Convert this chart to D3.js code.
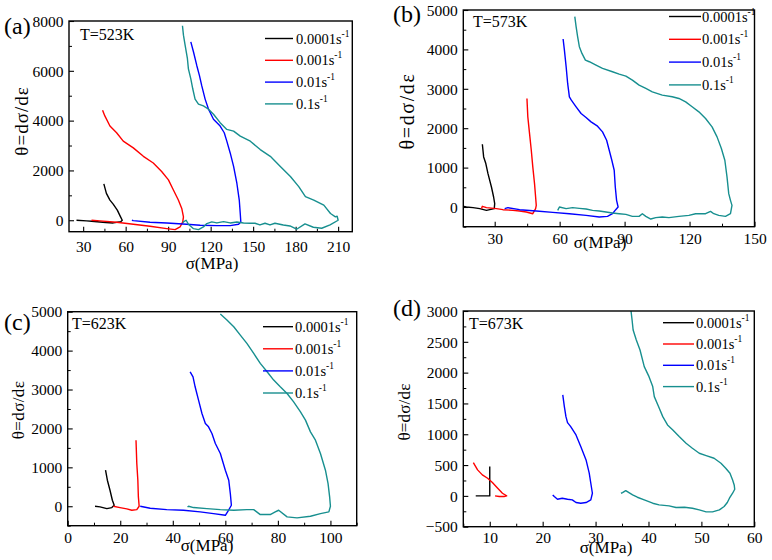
<!DOCTYPE html>
<html><head><meta charset="utf-8">
<script src="https://cdn.jsdelivr.net/npm/d3@7"></script>
<style>
html,body{margin:0;padding:0;background:#fff;}
svg{display:block;}
</style></head>
<body><svg id="c" width="772" height="560"></svg>
<script>
// ---------- data ----------
const rateLabels = ["0.0001s", "0.001s", "0.01s", "0.1s"];
const seriesColors = ["#000000", "#ff0000", "#0000ff", "#178f8f"];
const panelLetters = ["(a)", "(b)", "(c)", "(d)"];
const temps = ["T=523K", "T=573K", "T=623K", "T=673K"];

// panel (a) T=523K
const a_0001 = [[44.6,1459],[46.4,1081],[48.9,810],[51.2,648],[54.1,405],[56.4,135],[57.6,0],[56.5,-60],[51.2,-108],[46,-90],[41.8,-68],[36,-40],[32.4,-27],[25.3,0]];
const a_001 = [[43.7,4418],[45.3,4188],[48.9,3783],[53.6,3513],[58.3,3175],[65.4,2905],[72.5,2567],[79.5,2297],[85.4,1959],[90.2,1621],[93.7,1216],[97.2,811],[99.6,473],[100.8,135],[100.3,-68],[98.4,-270],[94.9,-378],[89,-338],[77.2,-243],[65.4,-162],[53.6,-81],[41.8,-27],[35.9,0]];
const a_01 = [[106,7160],[107.9,6755],[110.2,6215],[112.1,5809],[113.7,5404],[116.1,4864],[118.5,4458],[122,4053],[126.7,3783],[129.6,3513],[131.4,3175],[133.8,2702],[136.2,2162],[138.5,1486],[140.2,811],[140.9,270],[141.3,-68],[139.7,-162],[133.8,-216],[124.4,-216],[112.6,-203],[103.1,-162],[89,-108],[77.2,-81],[65.4,-14],[64.4,0]];
const a_1 = [[100.1,7809],[100.8,7430],[102,7025],[103.6,6485],[104.3,6080],[106,5674],[107.4,5269],[109,4864],[111.4,4661],[114.9,4593],[118.5,4458],[122,4256],[126.7,3918],[131.4,3648],[136.2,3580],[140.9,3378],[148,3175],[155,2837],[162.1,2567],[169.2,2162],[176.3,1756],[182.2,1351],[186.9,946],[192.8,811],[199.9,608],[204.6,270],[208.1,135],[209.3,162],[210,0],[204.3,-189],[198.4,-321],[192.5,-281],[186.6,-149],[180.7,-361],[176,-229],[171.3,-189],[165.4,-120],[161.9,-189],[158.4,-120],[154.8,-189],[151.3,-120],[147.8,-120],[143.2,-108],[138.5,-68],[133.8,-108],[129.1,-54],[124.4,-108],[120.8,-68],[117.3,-135],[114.9,-270],[111.4,-378],[107.9,-338],[104.3,-162],[102.7,0],[100.8,-68],[100.3,-96]];

// panel (b) T=573K
const b_0001 = [[24.3,1593],[24.9,1271],[25.9,1102],[26.9,847],[28.5,508],[29.5,254],[30,85],[29.8,-42],[26.2,-85],[23.1,-42],[20,-17],[16.9,0],[15.7,17]];
const b_001 = [[44.9,2754],[45.3,2288],[46.1,1864],[46.9,1441],[47.6,1017],[48.4,593],[48.9,254],[49.2,42],[48.9,-42],[47.6,-170],[44.6,-127],[41.5,-102],[38.4,-85],[33.8,-68],[30.8,-42],[26.2,-17],[24.3,17],[23.9,-42]];
const b_01 = [[61.6,4263],[62.2,3983],[63,3559],[63.7,3136],[64.5,2797],[65.4,2712],[67.6,2543],[69.9,2373],[72.2,2271],[74.5,2161],[77.5,2051],[79.8,1907],[81.7,1695],[82.9,1441],[84.1,1186],[85.2,932],[85.7,508],[86.3,169],[87,0],[85.9,-68],[84.4,-170],[82.1,-237],[78.3,-254],[72.2,-212],[64.5,-170],[56.8,-136],[49.2,-102],[41.5,-68],[36.1,-17],[34.6,-42]];
const b_1 = [[67,4831],[67.6,4577],[68.3,4322],[69.1,4068],[70.3,3898],[71.9,3729],[73.7,3687],[76.8,3602],[79.8,3517],[84.4,3432],[87.5,3373],[90.6,3322],[93.6,3220],[96.7,3093],[99.8,3009],[102.8,2924],[107.4,2839],[112,2797],[115.1,2754],[118.2,2669],[121.2,2543],[124.3,2415],[127.4,2246],[130.4,2034],[132.7,1780],[134.7,1483],[136.3,1186],[137.3,763],[138.1,339],[138.9,169],[139.6,42],[138.9,-170],[136.6,-237],[133.5,-212],[131.2,-170],[129.7,-110],[127.4,-170],[122.8,-170],[119.7,-212],[115.1,-237],[110.5,-271],[107.4,-254],[104.4,-271],[102.1,-305],[99.8,-237],[98.2,-170],[96.7,-237],[93.6,-237],[90.6,-186],[87.5,-170],[84.4,-153],[81.4,-127],[78.3,-102],[75.2,-85],[72.2,-51],[69.1,-34],[66,-17],[63,-42],[59.9,0],[59.1,-85]];

// panel (c) T=623K
const c_0001 = [[14.4,926],[15.1,669],[16.1,412],[17,154],[17.7,26],[16.8,-34],[14.9,-60],[12.3,-17],[10.4,0]];
const c_001 = [[26,1698],[26.3,1098],[26.7,669],[26.9,240],[27.2,0],[26.3,-86],[24.4,-103],[22.5,-69],[19.9,-34],[17.4,0]];
const c_01 = [[46.6,3456],[47.7,3327],[48.5,3070],[49.8,2727],[51.1,2384],[52.4,2127],[53.6,2041],[54.9,1870],[56.2,1612],[58.1,1355],[60,926],[61.3,669],[61.9,326],[62.3,26],[61.2,-103],[60,-232],[55.5,-189],[50.4,-146],[44.1,-103],[37.7,-86],[31.4,-51],[27.6,0]];
const c_1 = [[58.1,4940],[60.6,4785],[63.2,4614],[65.7,4399],[68.2,4185],[70.8,3928],[73.3,3671],[75.9,3456],[78.4,3242],[80.9,3070],[83.5,2899],[86,2684],[88.6,2427],[90.5,2213],[92.4,1912],[94.3,1698],[96.2,1355],[98.1,926],[99.1,583],[99.7,240],[100,0],[99.4,-146],[96.2,-189],[92.4,-257],[87.3,-300],[83.5,-274],[80.3,-103],[79,-146],[77.1,-214],[73.3,-214],[70.8,-86],[68.2,-86],[63.2,-103],[58.1,-86],[53,-60],[47.9,-34],[46,0],[45.6,-17]];

// panel (d) T=673K
const d_0001 = [[10,476],[10,0],[7.35,0]];
const d_001 = [[6.9,541],[7.7,422],[8.6,341],[9.6,286],[10.5,216],[11.5,124],[12.4,43],[13.2,0],[12.7,-11],[11.8,-11],[11,0]];
const d_01 = [[23.8,1638],[24.1,1449],[24.4,1286],[24.7,1189],[25.3,1124],[26.3,989],[27.2,800],[28.2,584],[28.8,368],[29.1,205],[29.4,43],[29.1,-65],[28.2,-108],[27.2,-119],[26.3,-108],[25.6,-65],[24.7,-54],[23.7,-38],[22.8,-54],[22.2,-11],[21.9,16]];
const d_1 = [[36.7,3000],[36.9,2854],[37.1,2692],[37.7,2530],[38.4,2367],[39.2,2097],[40.1,1935],[40.8,1773],[41.1,1611],[41.9,1449],[42.7,1286],[43.6,1151],[44.6,1070],[45.8,962],[47.1,854],[48.3,773],[49.6,692],[50.9,654],[52.4,611],[53.7,530],[54.6,449],[55.4,368],[55.9,259],[56.2,178],[56.3,108],[55.9,43],[55.3,-38],[54.9,-108],[54.3,-173],[53.4,-227],[52.1,-259],[50.9,-259],[49.6,-227],[48.3,-200],[46.8,-184],[45.2,-189],[43.9,-162],[42,-146],[40.8,-119],[39.2,-65],[37.9,-22],[37,16],[35.7,86],[35.1,54],[34.8,43]];

// ticks
const a_xticks = [30,60,90,120,150,180,210];
const a_yticks = [0,2000,4000,6000,8000];
const b_xticks = [30,60,90,120,150];
const b_yticks = [0,1000,2000,3000,4000,5000];
const c_xticks = [0,20,40,60,80,100];
const c_yticks = [0,1000,2000,3000,4000,5000];
const d_xticks = [10,20,30,40,50,60];
const d_yticks = [-500,0,500,1000,1500,2000,2500,3000];

// ---------- layout ----------
const panels = [
  {series:[a_0001,a_001,a_01,a_1], xd:[20,220], yd:[-460,8000], xt:a_xticks, yt:a_yticks, xminor:15, yminor:1000,
   f:{l:69,r:352.3,t:21,b:231.7}, tickLabY:252.5, xLab:{x:212,y:269}, yLab:{x:28,y:121,size:19,ls:1},
   letter:{x:4,y:34,size:24}, temp:{x:80,y:40}, leg:{x1:265,x2:293,tx:296,y0:38.5,dy:21.8}},
  {series:[b_0001,b_001,b_01,b_1], xd:[15.5,150], yd:[-500,5000], xt:b_xticks, yt:b_yticks, xminor:15, yminor:500,
   f:{l:463.3,r:754.5,t:10,b:226.7}, tickLabY:244.5, xLab:{x:600,y:248}, yLab:{x:413.5,y:111,size:20,ls:1.6},
   letter:{x:393,y:22,size:24}, temp:{x:473,y:27}, leg:{x1:669,x2:701,tx:702,y0:16.5,dy:22.8}},
  {series:[c_0001,c_001,c_01,c_1], xd:[0,110], yd:[-500,5000], xt:c_xticks, yt:c_yticks, xminor:10, yminor:500,
   f:{l:67.7,r:356.7,t:311.7,b:525.7}, tickLabY:543.5, xLab:{x:207,y:551}, yLab:{x:24,y:410,size:17,ls:0.4},
   letter:{x:4,y:330,size:24}, temp:{x:72,y:329}, leg:{x1:263,x2:293,tx:295,y0:326.7,dy:22.1}},
  {series:[d_0001,d_001,d_01,d_1], xd:[5,60], yd:[-500,3000], xt:d_xticks, yt:d_yticks, xminor:5, yminor:250,
   f:{l:463.3,r:754.3,t:311,b:526.7}, tickLabY:543.5, xLab:{x:606,y:553}, yLab:{x:410,y:412,size:17,ls:0.2},
   letter:{x:393,y:316,size:24}, temp:{x:469,y:329}, leg:{x1:663,x2:694,tx:696,y0:322.7,dy:21.3}}
];

const FONT = '"Liberation Serif","Times New Roman",Times,serif';
const svg = d3.select("#c").attr("font-family", FONT);
panels.forEach((p,i)=>{
  const g = svg.append("g");
  const x = d3.scaleLinear().domain(p.xd).range([p.f.l,p.f.r]);
  const y = d3.scaleLinear().domain(p.yd).range([p.f.b,p.f.t]);
  const clipId = "clip"+i;
  g.append("clipPath").attr("id",clipId).append("rect")
    .attr("x",p.f.l).attr("y",p.f.t).attr("width",p.f.r-p.f.l).attr("height",p.f.b-p.f.t);

  const xMinor = d3.range(Math.ceil(p.xd[0]/p.xminor)*p.xminor, p.xd[1]+1e-9, p.xminor).filter(v=>!p.xt.includes(v));
  const yMinor = d3.range(Math.ceil(p.yd[0]/p.yminor)*p.yminor, p.yd[1]+1e-9, p.yminor).filter(v=>!p.yt.includes(v));

  const xAxis = d3.axisBottom(x).tickValues(p.xt).tickSize(-5).tickPadding(0).tickFormat(d3.format("d"));
  const gx = g.append("g").attr("transform",`translate(0,${p.f.b})`).call(xAxis).attr("font-family",FONT);
  gx.select(".domain").remove();
  gx.selectAll("text").attr("y", p.tickLabY - p.f.b).attr("dy",0)
    .attr("font-size",15.5).attr("fill","#000");
  gx.selectAll("line").attr("stroke","#000").attr("stroke-width",1.1);
  const gxm = g.append("g").attr("transform",`translate(0,${p.f.b})`)
    .call(d3.axisBottom(x).tickValues(xMinor).tickSize(-3).tickFormat(""));
  gxm.select(".domain").remove();

  const yAxis = d3.axisLeft(y).tickValues(p.yt).tickSize(-5).tickPadding(6).tickFormat(d3.format("d"));
  const gy = g.append("g").attr("transform",`translate(${p.f.l},0)`).call(yAxis).attr("font-family",FONT);
  gy.select(".domain").remove();
  gy.selectAll("text").attr("x",-5.5).attr("dy","0.34em")
    .attr("font-size",15.5).attr("fill","#000");
  gy.selectAll("line").attr("stroke-width",1.1);
  const gym = g.append("g").attr("transform",`translate(${p.f.l},0)`)
    .call(d3.axisLeft(y).tickValues(yMinor).tickSize(-3).tickFormat(""));
  gym.select(".domain").remove();

  const line = d3.line().x(d=>x(d[0])).y(d=>y(d[1]));
  p.series.forEach((s,k)=>{
    g.append("path").datum(s).attr("d",line).attr("fill","none")
      .attr("stroke",seriesColors[k]).attr("stroke-width",1.4)
      .attr("stroke-linejoin","round").attr("clip-path",`url(#${clipId})`);
  });

  g.append("rect").attr("x",p.f.l).attr("y",p.f.t).attr("width",p.f.r-p.f.l).attr("height",p.f.b-p.f.t)
    .attr("fill","none").attr("stroke","#000").attr("stroke-width",1.4);

  g.append("text").attr("x",p.xLab.x).attr("y",p.xLab.y).attr("text-anchor","middle")
    .attr("font-size",17).text("σ(MPa)");
  g.append("text").attr("transform",`translate(${p.yLab.x},${p.yLab.y}) rotate(-90)`)
    .attr("text-anchor","middle").attr("font-size",p.yLab.size)
    .attr("letter-spacing",p.yLab.ls).text("θ=dσ/dε");
  g.append("text").attr("x",p.letter.x).attr("y",p.letter.y).attr("font-size",p.letter.size).text(panelLetters[i]);
  g.append("text").attr("x",p.temp.x).attr("y",p.temp.y).attr("font-size",16).text(temps[i]);

  rateLabels.forEach((lab,k)=>{
    const yy = p.leg.y0 + k*p.leg.dy;
    g.append("line").attr("x1",p.leg.x1).attr("x2",p.leg.x2).attr("y1",yy).attr("y2",yy)
      .attr("stroke",seriesColors[k]).attr("stroke-width",1.4);
    const t = g.append("text").attr("x",p.leg.tx).attr("y",yy+5).attr("font-size",14.5);
    t.append("tspan").text(lab);
    t.append("tspan").attr("dy",-7).attr("font-size",9.5).text("-1");
  });
});
</script></body></html>
